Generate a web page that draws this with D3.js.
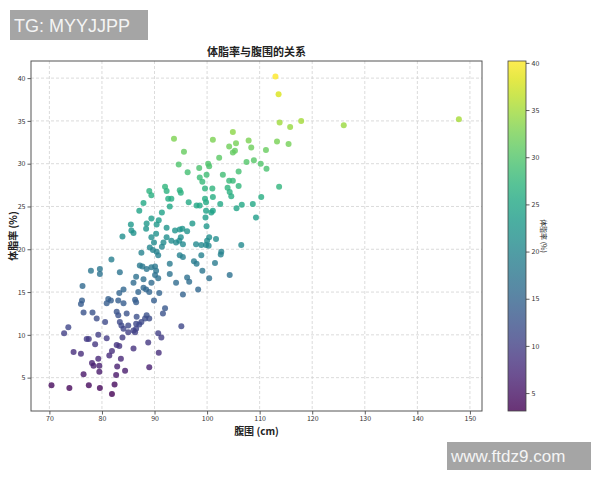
<!DOCTYPE html>
<html><head><meta charset="utf-8">
<script src="https://cdn.jsdelivr.net/npm/d3@7"></script>
<style>
html,body{margin:0;padding:0;background:#fff;}
svg{display:block;}
</style></head>
<body>
<svg id="chart" width="600" height="480"></svg>
<script>
// 腹围 (cm)
const waist = [
96.3,92.0,92.3,89.0,89.4,94.8,95.0,92.6,93.2,87.9,96.5,98.0,92.9,87.1,91.4,89.4,90.8,85.5,88.5,90.4,97.2,
85.6,86.0,88.4,92.3,93.9,94.8,95.3,96.2,90.3,83.9,89.4,92.3,93.2,94.1,95.0,94.7,91.7,89.9,95.4,97.9,89.1,
89.7,90.4,90.7,91.4,87.5,94.8,95.4,81.8,
104.9,93.7,101.1,107.9,105.5,104.2,108.4,111.2,105.3,104.9,95.6,102.3,108.9,107.5,100.2,100.4,94.6,110.2,
111.3,98.5,103.0,106.0,99.9,98.6,99.1,104.2,104.9,99.6,101.0,103.9,106.0,104.3,104.6,99.6,101.1,110.3,98.6,
99.8,102.5,106.6,108.7,105.6,99.8,100.8,101.1,99.7,109.3,
79.6,87.2,87.7,88.5,89.4,90.1,90.3,92.9,97.5,98.0,83.4,86.5,90.1,90.7,92.9,87.9,96.2,96.6,86.0,89.4,94.1,
87.9,88.4,89.0,98.3,86.9,90.9,84.1,83.3,81.2,81.7,80.9,83.1,84.1,86.3,86.5,89.9,82.8,83.1,84.7,92.0,91.6,
88.5,89.0,88.2,86.6,80.6,83.4,83.7,87.5,87.1,86.5,85.0,95.1,84.1,86.0,86.5,86.3,85.0,90.7,91.3,80.9,83.9,
77.9,79.6,76.3,76.2,76.0,76.5,78.2,79.0,73.6,72.8,77.1,77.5,79.3,78.7,74.6,76.0,81.9,81.4,82.8,83.3,86.0,
88.8,90.8,89.0,78.1,78.4,79.3,79.5,76.5,79.5,83.6,82.9,84.4,82.7,82.4,81.9,70.4,73.8,77.5,79.6,
99.9,100.4,101.7,100.0,98.9,99.8,100.3,106.5,102.7,102.6,98.9,101.5,99.1,104.3,100.4,95.4,
113.0,113.6,113.8,115.8,117.9,126.0,147.9,113.3,115.5,113.7
];
// 体脂率 (%)
const bodyFat = [
29.0,27.3,26.8,26.8,26.3,26.9,26.6,25.9,25.9,25.4,25.5,25.1,25.0,24.5,24.3,23.6,23.4,22.9,23.0,22.9,23.0,
22.2,21.9,22.4,22.5,22.2,22.3,22.4,22.1,21.8,21.5,21.4,21.4,21.0,20.8,21.4,21.0,20.8,20.8,20.6,20.6,20.2,
19.9,19.7,19.3,20.3,19.6,19.3,19.1,18.8,
33.7,32.9,32.8,32.7,32.4,32.0,31.9,31.6,31.5,31.3,31.4,30.7,30.4,30.2,30.0,29.7,29.9,30.0,
29.4,29.5,28.7,29.1,28.7,28.4,27.9,28.0,28.0,27.1,27.1,27.2,27.4,26.7,26.2,25.9,26.1,26.1,25.1,
25.5,25.3,25.2,25.3,24.8,24.5,24.3,24.5,23.7,23.7,
17.7,18.1,18.0,17.7,17.9,18.0,17.5,18.3,18.6,18.3,17.3,16.8,17.0,16.6,17.1,16.5,16.7,16.2,16.1,16.1,16.1,
15.5,15.3,15.0,15.3,15.0,14.9,15.3,14.9,14.2,14.0,13.7,14.0,13.7,14.1,13.8,14.0,12.7,12.3,12.5,13.1,12.5,
12.3,11.9,11.9,12.1,11.5,11.5,11.1,11.5,11.2,11.3,11.1,11.0,10.7,10.5,10.7,10.3,10.3,10.2,9.7,9.6,9.7,
17.5,17.1,15.7,14.0,13.6,12.6,12.6,11.9,10.9,10.2,9.5,9.5,10.0,8.9,8.0,7.8,8.1,7.6,8.8,8.7,8.4,
9.1,7.9,6.2,6.7,6.4,7.2,6.4,5.4,5.7,7.2,6.3,5.8,5.3,4.2,3.1,4.1,3.8,4.1,3.8,
22.7,21.4,21.2,21.0,20.5,20.5,20.4,20.5,19.7,19.4,19.3,18.4,17.5,17.0,16.6,14.7,
40.2,38.1,34.8,34.3,35.0,34.5,35.2,32.6,32.3,27.3
];
const xTicks = [70,80,90,100,110,120,130,140,150];
const yTicks = [5,10,15,20,25,30,35,40];
const cbTicks = [5,10,15,20,25,30,35,40];

const titleText = "体脂率与腹围的关系";
const xLabel = "腹围 (cm)";
const yLabel = "体脂率 (%)";
const cbLabel = "体脂率 (%)";

const svg = d3.select("#chart");
const font = "'Noto Sans CJK SC','DejaVu Sans',sans-serif";
const plot = {left:31, right:482, top:61, bottom:411};

const x = d3.scaleLinear().domain([66.5, 152.3]).range([plot.left, plot.right]);
const y = d3.scaleLinear().domain([1.1, 42.0]).range([plot.bottom, plot.top]);

const cmin = d3.min(bodyFat), cmax = d3.max(bodyFat);
const color = d3.scaleSequential(d3.interpolateViridis).domain([cmin, cmax]);

// grid
const grid = svg.append("g");
grid.selectAll("line.gx").data(xTicks).join("line")
  .attr("x1", d=>x(d)).attr("x2", d=>x(d)).attr("y1", plot.top).attr("y2", plot.bottom)
  .attr("stroke","#d2d2d2").attr("stroke-width",0.8).attr("stroke-dasharray","3,2");
grid.selectAll("line.gy").data(yTicks).join("line")
  .attr("y1", d=>y(d)).attr("y2", d=>y(d)).attr("x1", plot.left).attr("x2", plot.right)
  .attr("stroke","#d2d2d2").attr("stroke-width",0.8).attr("stroke-dasharray","3,2");

// points
const pts = waist.map((w,i)=>({w, f: bodyFat[i]}));
svg.append("g").selectAll("circle").data(pts).join("circle")
  .attr("cx", d=>x(d.w)).attr("cy", d=>y(d.f)).attr("r", 3)
  .attr("fill", d=>color(d.f)).attr("fill-opacity", 0.8);

// axes
const xAxis = svg.append("g").attr("transform",`translate(0,${plot.bottom})`)
  .call(d3.axisBottom(x).tickValues(xTicks).tickSize(3.5).tickPadding(1.5));
const yAxis = svg.append("g").attr("transform",`translate(${plot.left},0)`)
  .call(d3.axisLeft(y).tickValues(yTicks).tickSize(3.5).tickPadding(2));
[xAxis,yAxis].forEach(a=>{
  a.select(".domain").remove();
  a.selectAll(".tick line").attr("stroke","#333").attr("stroke-width",0.8);
  a.selectAll(".tick text").attr("font-family",font).attr("font-size",7).attr("fill","#333");
});

// frame
svg.append("rect").attr("x",plot.left).attr("y",plot.top)
  .attr("width",plot.right-plot.left).attr("height",plot.bottom-plot.top)
  .attr("fill","none").attr("stroke","#555").attr("stroke-width",1);

// title and labels
svg.append("text").attr("x",(plot.left+plot.right)/2).attr("y",56)
  .attr("text-anchor","middle").attr("font-family",font).attr("font-size",11).attr("font-weight","bold")
  .attr("fill","#222").text(titleText);
svg.append("text").attr("x",(plot.left+plot.right)/2).attr("y",435)
  .attr("text-anchor","middle").attr("font-family",font).attr("font-size",10).attr("font-weight","bold")
  .attr("fill","#222").text(xLabel);
svg.append("text").attr("transform",`translate(17,${(plot.top+plot.bottom)/2}) rotate(-90)`)
  .attr("text-anchor","middle").attr("font-family",font).attr("font-size",10).attr("font-weight","bold")
  .attr("fill","#222").text(yLabel);

// colorbar
const cb = {x:508, w:18, top:plot.top, bottom:plot.bottom};
const cy = d3.scaleLinear().domain([cmin, cmax]).range([cb.bottom, cb.top]);
const defs = svg.append("defs");
const grad = defs.append("linearGradient").attr("id","vgrad")
  .attr("x1","0").attr("y1","1").attr("x2","0").attr("y2","0");
d3.range(0,1.0001,0.05).forEach(t=>{
  grad.append("stop").attr("offset",t).attr("stop-color",d3.interpolateViridis(t));
});
svg.append("rect").attr("x",cb.x).attr("y",cb.top).attr("width",cb.w).attr("height",cb.bottom-cb.top)
  .attr("fill","url(#vgrad)").attr("fill-opacity",0.8);
svg.append("rect").attr("x",cb.x).attr("y",cb.top).attr("width",cb.w).attr("height",cb.bottom-cb.top)
  .attr("fill","none").attr("stroke","#444").attr("stroke-width",0.8);
const cbAxis = svg.append("g").attr("transform",`translate(${cb.x+cb.w},0)`)
  .call(d3.axisRight(cy).tickValues(cbTicks).tickSize(3.5).tickPadding(2));
cbAxis.select(".domain").remove();
cbAxis.selectAll(".tick line").attr("stroke","#333").attr("stroke-width",0.8);
cbAxis.selectAll(".tick text").attr("font-family",font).attr("font-size",7).attr("fill","#333");
svg.append("text").attr("transform",`translate(541,${(cb.top+cb.bottom)/2}) rotate(90)`)
  .attr("text-anchor","middle").attr("font-family",font).attr("font-size",7)
  .attr("fill","#222").text(cbLabel);

// watermarks
svg.append("rect").attr("x",10).attr("y",10).attr("width",138).attr("height",30).attr("fill","#a5a5a5");
svg.append("text").attr("x",14).attr("y",32).attr("font-family","'Liberation Sans',Arial,sans-serif")
  .attr("font-size",18).attr("fill","#f4f4f4").text("TG: MYYJJPP");
svg.append("rect").attr("x",447).attr("y",442).attr("width",144).attr("height",28).attr("fill","#a5a5a5");
svg.append("text").attr("x",451).attr("y",462).attr("font-family","'Liberation Sans',Arial,sans-serif")
  .attr("font-size",17).attr("fill","#f4f4f4").text("www.ftdz9.com");
</script>
</body></html>
